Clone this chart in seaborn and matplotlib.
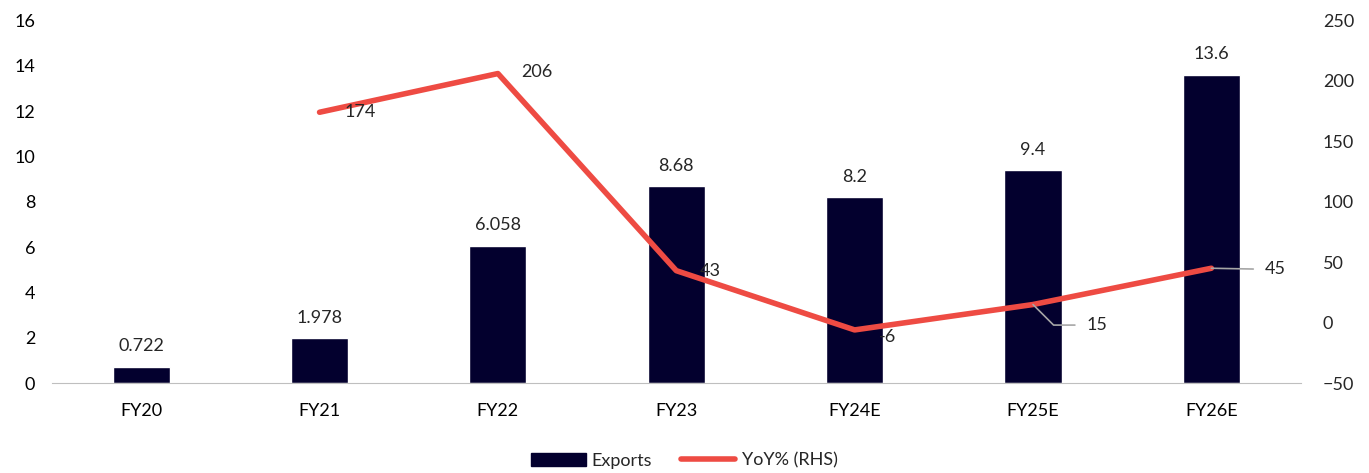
import matplotlib.pyplot as plt
import matplotlib.patches as mpatches
import matplotlib.lines as mlines
import pandas as pd
import seaborn as sns

# data
years = ['FY20', 'FY21', 'FY22', 'FY23', 'FY24E', 'FY25E', 'FY26E']
exports = [0.722, 1.978, 6.058, 8.68, 8.2, 9.4, 13.6]
export_labels = ['0.722', '1.978', '6.058', '8.68', '8.2', '9.4', '13.6']
yoy_years = ['FY21', 'FY22', 'FY23', 'FY24E', 'FY25E', 'FY26E']
yoy = [174, 206, 43, -6, 15, 45]

bar_color = '#03002e'
line_color = '#ee4b43'

sns.set_style('white')
plt.rcParams['font.family'] = ['Lato', 'DejaVu Sans']

df = pd.DataFrame({'Year': years, 'Exports': exports})
df_yoy = pd.DataFrame({'Year': yoy_years, 'YoY': yoy})
df_yoy['pos'] = [years.index(y) for y in yoy_years]

fig, ax = plt.subplots(figsize=(13.69, 4.73), dpi=100)
fig.subplots_adjust(left=0.038, right=0.95, top=0.957, bottom=0.19)

sns.barplot(data=df, x='Year', y='Exports', color=bar_color, width=0.32,
            saturation=1, ax=ax)
ax.set_ylim(0, 16)
ax.set_yticks(range(0, 17, 2))
ax.set_xlim(-0.5, len(years) - 0.5)
ax.set_xlabel('')
ax.set_ylabel('')
for s in ['top', 'right', 'left']:
    ax.spines[s].set_visible(False)
ax.spines['bottom'].set_color('#bfbfbf')
ax.tick_params(axis='both', length=0, labelsize=13, colors='black')
ax.tick_params(axis='x', pad=14)
ax.tick_params(axis='y', pad=12)

for i, (v, lab) in enumerate(zip(exports, export_labels)):
    ax.text(i, v + 0.55, lab, ha='center', va='bottom', fontsize=13)

ax2 = ax.twinx()
sns.lineplot(data=df_yoy, x='pos', y='YoY', color=line_color, linewidth=4,
             ax=ax2, zorder=3)
ax2.set_ylim(-50, 250)
ax2.set_yticks(range(-50, 251, 50))
ax2.set_ylabel('')
ax2.set_xlabel('')
for s in ['top', 'right', 'left', 'bottom']:
    ax2.spines[s].set_visible(False)
ax2.tick_params(axis='y', length=0, labelsize=13, pad=16)
ax2.set_xlim(-0.5, len(years) - 0.5)

# data labels for the line
pos = df_yoy['pos'].tolist()
ax2.text(pos[0] + 0.14, yoy[0], str(yoy[0]), ha='left', va='center', fontsize=13)
ax2.text(pos[1] + 0.13, yoy[1] + 1, str(yoy[1]), ha='left', va='center', fontsize=13)
ax2.text(pos[2] + 0.13, yoy[2], str(yoy[2]), ha='left', va='center', fontsize=13, zorder=1)
ax2.text(pos[3] + 0.135, yoy[3] - 6, str(yoy[3]), ha='left', va='center', fontsize=13, zorder=2)
ax2.annotate(str(yoy[4]), xy=(pos[4], yoy[4]), xytext=(pos[4] + 0.3, yoy[4] - 17),
             ha='left', va='center', fontsize=13,
             arrowprops=dict(arrowstyle='-', color='#a6a6a6', lw=1.2,
                             connectionstyle='angle,angleA=0,angleB=-45,rad=0',
                             shrinkA=6, shrinkB=0))
ax2.annotate(str(yoy[5]), xy=(pos[5], yoy[5]), xytext=(pos[5] + 0.3, yoy[5] - 1),
             ha='left', va='center', fontsize=13,
             arrowprops=dict(arrowstyle='-', color='#a6a6a6', lw=1.2,
                             shrinkA=6, shrinkB=0))

handles = [mpatches.Patch(color=bar_color, label='Exports'),
           mlines.Line2D([], [], color=line_color, lw=4, label='YoY% (RHS)')]
fig.legend(handles=handles, loc='lower center', ncol=2, frameon=False,
           fontsize=13, bbox_to_anchor=(0.5, -0.025), handlelength=3.0,
           handleheight=0.75, columnspacing=1.6, handletextpad=0.35)

fig.savefig('out.png', dpi=100)
